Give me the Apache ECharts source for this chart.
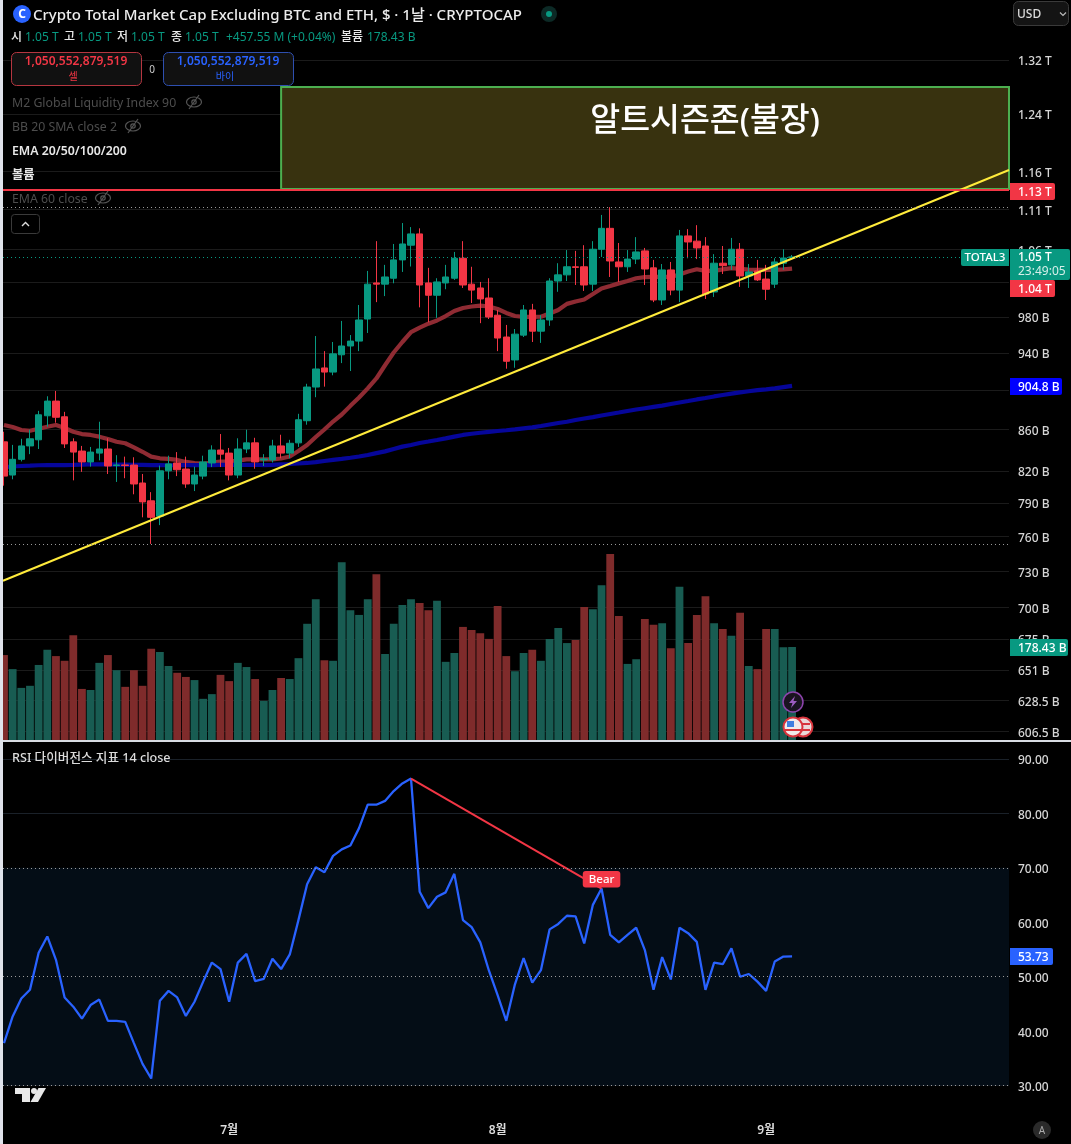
<!DOCTYPE html>
<html><head><meta charset="utf-8">
<style>html,body{margin:0;padding:0;background:#000;overflow:hidden}#c{width:1071px;height:1144px}</style>
<script src="https://cdn.jsdelivr.net/npm/echarts@6/dist/echarts.min.js"></script>
</head><body><div id="c"></div>
<script>
// ---- price pane data, billions USD: [open, close, low, high] per daily candle
const ohlc = [
[848,815,806,858],[816,831,812,845],[831,844,829,851],[844,851,836,860],[850,875,841,879],[874,889,863,894],
[889,872.5,867,899.5],[873,846,842,878],[848,838,811,851.5],[839,828.5,819,844],[828.5,838,824,843],[837,841,830,868],
[841,824.6,817,851.5],[825,825.6,809.5,835],[825.6,825,813,833.6],[825.5,807.6,798,833],[808.5,791,777,817],[792,777,753.4,800],
[778,820,770,825],[820,826.6,812,834.5],[827.5,821,815,838],[821.7,807.6,804,833.6],[807.6,816,801,824],[815,828.5,812,834.5],
[827.5,840,823.6,844.6],[840,836,823.6,855.7],[837,816,811,842],[816,841,813,851.5],[841,847,837,860],[847,828.5,822,852],
[830.4,831.4,824.6,836],[830.4,844,828,850],[844,837,832,855],[837,846.6,832,850],[847,870,843,876],[869,903.6,865,907],
[903.6,922.7,893,958.6],[923.8,919.4,904,942],[919.4,939,916,952],[938,947.6,929,975.5],[947.6,953,920.5,959.7],[953,976.6,942,993.7],
[977.7,1018,962,1033.7],[1019.4,1018,997,1070],[1018,1026.5,1004,1041],[1025,1047,1019,1066.5],[1047,1066.5,1032.5,1092.7],[1065,1079,1039,1087.6],
[1079,1017,991,1086],[1019.4,1005,974,1037.4],[1005,1020.6,979,1025],[1019.4,1026.5,1012,1041],[1025,1049,1023,1056.7],[1049,1017,1013.5,1070],
[1018,1011,996,1038.7],[1013.5,1000.7,973,1020.6],[1001.8,980,977.7,1025],[982,956.4,942,988],[957.5,931,923,971],[932.4,960.7,924,966.4],
[959.6,988,957.5,993.7],[988,964,952,995],[964,976.6,951,982],[976.6,1021.7,970,1025],[1021.7,1029,1009,1043],[1029,1038.7,1021.7,1059],
[1038.7,1037.9,1017,1058],[1038.7,1017,1010,1065],[1018,1060,1010,1070],[1060,1086,1050.6,1103],[1086,1045.7,1026.5,1113],[1044.5,1038.7,1020.6,1067.7],
[1038.7,1048,1032.5,1059],[1048,1056.7,1042,1075],[1058,1036,1017,1061.6],[1037.4,999.5,997,1047],[999.5,1034.9,993.7,1042],[1034.9,1011,1005,1044.5],
[1011,1076.5,997,1084],[1076.5,1069,1049,1085],[1070,1061.6,1048,1090],[1064,1006.4,1000.7,1075],[1008.8,1043,1003,1054],[1043,1040,1030,1064],
[1041,1060,1035,1074],[1060,1027.7,1014.8,1067.7],[1027.7,1032.5,1013.5,1042],[1033.7,1023,1021.7,1047],[1024,1012,999.5,1041],[1018,1044.5,1013.5,1049],
[1043,1049.3,1035,1060],[1050.1,1050.55,1049.5,1053]];
const volume = [163,136,100,104,144,173,161,152,201,98,96,148,163,134,102,134,104,175,169,142,129,121,115,79,88,125,113,148,140,117,75,96,119,117,157,223,270,153,152,341,249,240,270,318,165,223,259,270,263,249,267,150,167,217,211,205,194,257,161,132,167,173,152,194,215,186,192,255,251,297,357,238,146,155,232,221,224,176,294,186,240,276,224,213,200,244,142,136,213,213,178,178.43];
const ema50 = [864.7,862.7,859.7,859,861,863,864.7,861.7,858,855.7,854.8,853.1,850.8,848.1,846.6,842.6,838.3,833.6,832,831.4,830.4,828.5,827.3,826.6,827.8,828.8,828.8,829.7,831,831,831,830.9,831.8,833.7,839,844.9,852.8,860.2,868.2,875.3,884.1,892.7,902.2,912.6,926.7,940.5,952,963,967.9,972.4,976,981.1,986.8,990.3,992,992.9,992,989.1,984.6,981.1,980.2,980.2,980.3,984,988,995,997.8,1000.1,1006.4,1012.9,1015.8,1018.9,1021.7,1025,1026.4,1026.5,1026.5,1026.5,1029.5,1033.1,1035.7,1033.7,1033.7,1035.5,1037,1036.1,1035.3,1034.9,1034.9,1034.9,1035.5,1036.5];
const ema200 = [823.6,824.1,824.6,824.9,825.3,825.5,825.5,825.5,825.7,826,826.2,826.2,826.1,826,825.9,825.7,825.6,825.5,825.4,825.3,825.3,825.4,825.5,825.5,825.5,825.6,825.6,825.7,825.7,825.8,825.5,825.7,826.1,826.5,827,827.5,828.3,829.4,830.4,831.4,832.5,833.7,835.2,837,838.7,841,843.3,844.9,846.9,848.3,849.8,851.4,853.1,854.8,856,857,857.9,858.7,859.5,860.4,861.4,862.4,863.7,865.2,866.7,868,869.7,871.2,872.7,874.3,875.8,877.3,878.9,880.4,881.7,883,884.3,886,887.6,889.1,890.7,892.2,893.8,895.3,896.7,898,899.2,900.3,901.2,902.2,903.5,904.8];
const rsi = [37.8,42.7,46,47.6,54.4,57.4,53.1,46.2,44.5,42.3,44.8,45.8,41.9,41.9,41.7,37.8,34,31.3,45.6,47.4,46.2,42.8,45.4,49.1,52.6,51.4,45.4,52.6,54.2,49.2,49.6,53.3,51.4,54.1,60.4,67,70.1,69.2,72.2,73.4,74.1,77.3,81.6,81.6,82.3,84.1,85.5,86.4,65.6,62.6,64.7,65.5,68.9,60.4,59.1,56.3,51.1,46.6,41.9,48.6,53.4,48.9,51.2,58.7,59.7,61.2,61.1,56.1,63.2,66.2,57.7,56.3,57.7,59,54.9,47.6,53.6,49.5,59,58,56.4,47.6,52.6,52.3,55.2,50,50.5,49.1,47.4,52.8,53.7,53.73];
const priceTicks = [1320,1240,1160,1110,1060,1020,980,940,900,860,820,790,760,730,700,675,651,628.5,606.5];
const priceTickLabels = ['1.32 T','1.24 T','1.16 T','1.11 T','1.06 T','','980 B','940 B','','860 B','820 B','790 B','760 B','730 B','700 B','675 B','651 B','628.5 B','606.5 B'];
const rsiTicks = [30,40,50,60,70,80,90];
const monthTicks = [26,57,88];
const monthLabels = ['7월','8월','9월'];
const trendX = [-0.115,116.05], trendY = [721.9,1162];       // rising support line
const zoneX = 32, zoneTop = 1279.3, zoneBottom = 1136.6;     // alt-season box
const zoneLabel = '알트시즌존(불장)';
const redLevel = 1135.4, lastClose = 1050.55, rangeHigh = 1113, rangeLow = 753.4;
const divX = [47,69], divY = [86.4,66.2];

// ---- scale limits, style
const xMin = -0.115, xMax = 116.05;
const UP='#089981', DOWN='#f23645', UPV='#185c52', DOWNV='#7f2b2b';
const FF = '"Noto Sans","Noto Sans CJK KR",sans-serif';
const idx = a => a.map((v,i)=>[i,v]);

const T=(x,y,text,fill,size,weight,align)=>({type:'text',x,y:y+2,z:100,silent:true,style:{text,fill,font:(weight||'normal')+' '+size+'px '+FF,textAlign:align||'left',textVerticalAlign:'middle'}});
const R=(x,y,w,h,fill,stroke,r)=>({type:'rect',z:99,silent:true,shape:{x,y,width:w,height:h,r:r||0},style:{fill:fill,stroke:stroke||null,lineWidth:stroke?1:0}});
const tag=(x,y,w,h,fill,text,r)=>[R(x,y,w,h,fill,null,r||[0,2,2,0]),T(x+8,y+h/2-1,text,'#fff',12,'500')];
const eye=(cx,cy)=>[
 {type:'ellipse',z:100,silent:true,shape:{cx,cy,rx:7.5,ry:5},style:{fill:'none',stroke:'#555',lineWidth:1.2}},
 {type:'circle',z:100,silent:true,shape:{cx,cy,r:2.2},style:{fill:'none',stroke:'#555',lineWidth:1.2}},
 {type:'line',z:100,silent:true,shape:{x1:cx-5,y1:cy+7,x2:cx+5,y2:cy-7},style:{stroke:'#555',lineWidth:1.2}}];
const grey='#4d4d4d';
const tickLabel = (labels, ticks) => v => { const s = labels[ticks.findIndex(t=>Math.abs(t-v)<0.5)]; return s ? '{a|' + s + '}' : ''; };
const rich = {a:{color:'#d6d6d6',fontSize:12,fontWeight:500,fontFamily:FF,padding:[4,0,0,0]}};
const graphics = [
 R(0,0,3,1144,'#e0e3eb'),
 R(3,740,1068,2,'#d9dce3'),
 // header
 {type:'circle',z:100,silent:true,shape:{cx:22,cy:14,r:9},style:{fill:'#2962ff'}},
 T(22,13,'C','#fff',12,'bold','center'),
 T(33,13.5,'Crypto Total Market Cap Excluding BTC and ETH, $ · 1날 · CRYPTOCAP','#ededed',15,'500'),
 {type:'circle',z:100,silent:true,shape:{cx:549,cy:14,r:8},style:{fill:'#0c2a26'}},
 {type:'circle',z:100,silent:true,shape:{cx:549,cy:14,r:3},style:{fill:UP}},
 T(11,36,'시','#e8e8e8',12,'500'),T(25,36,'1.05 T',UP,12),
 T(64,36,'고','#e8e8e8',12,'500'),T(78,36,'1.05 T',UP,12),
 T(117,36,'저','#e8e8e8',12,'500'),T(131,36,'1.05 T',UP,12),
 T(171,36,'종','#e8e8e8',12,'500'),T(185,36,'1.05 T',UP,12),
 T(226,36,'+457.55 M (+0.04%)',UP,12),
 T(341,36,'볼륨','#e8e8e8',12,'500'),T(367,36,'178.43 B',UP,12),
 R(11.5,52.5,130,33,'#111','#b53640',5),
 T(76,60,'1,050,552,879,519','#f23645',12,'600','center'),T(73,75,'셀','#f23645',10,'normal','center'),
 T(152,68,'0','#ccc',10,'normal','center'),
 R(163.5,52.5,130,33,'#111','#2e4fb0',5),
 T(228,60,'1,050,552,879,519','#2962ff',12,'600','center'),T(225,75,'바이','#2962ff',10,'normal','center'),
 T(12,101,'M2 Global Liquidity Index 90',grey,12.3),...eye(194,102),
 T(12,125,'BB 20 SMA close 2',grey,12.3),...eye(133,126),
 T(12,149,'EMA 20/50/100/200','#e8e8e8',12.3,'600'),
 T(12,173,'볼륨','#e8e8e8',12.3,'600'),
 T(12,197,'EMA 60 close',grey,12.3),...eye(103,198),
 R(11.5,214.5,28,19,'#000','#3a3a3a',3),
 {type:'polyline',z:100,silent:true,shape:{points:[[22,226],[25.5,222.5],[29,226]]},style:{fill:'none',stroke:'#ddd',lineWidth:1.4}},
 R(1013.5,1.5,55,24,'#141414','#3a3a3a',5),
 T(1017,13,'USD','#dcdcdc',12,'500'),
 {type:'polyline',z:100,silent:true,shape:{points:[[1060,12.5],[1063,15.5],[1066,12.5]]},style:{fill:'none',stroke:'#bbb',lineWidth:1.2}},
 // price tags
 ...tag(1010,183,45,17,'#f23645','1.13 T'),
 R(1010,249,60,31,UP,null,[0,2,2,0]),T(1018,256,'1.05 T','#fff',12,'500'),T(1018,270,'23:49:05','#d5efe9',12),
 R(961,249,48,17,UP,null,[2,0,0,2]),T(985,256,'TOTAL3','#fff',11.5,'500','center'),
 ...tag(1010,280,45,17,'#f23645','1.04 T'),
 ...tag(1010,378,52,17,'#0000ff','904.8 B'),
 ...tag(1010,639,58,17,UP,'178.43 B'),
 ...tag(1010,948,43,17,'#2962ff','53.73'),
 // RSI title
 T(12,756,'RSI 다이버전스 지표 14 close','#dcdcdc',12.6,'500'),
 // TradingView mark
 {type:'polygon',z:100,silent:true,shape:{points:[[15,1088],[30,1088],[30,1102],[22,1102],[22,1094],[15,1094]]},style:{fill:'#e8e8e8'}},
 {type:'circle',z:100,silent:true,shape:{cx:34,cy:1091,r:3},style:{fill:'#e8e8e8'}},
 {type:'polygon',z:100,silent:true,shape:{points:[[38.5,1088],[46,1088],[38,1102],[30.5,1102]]},style:{fill:'#e8e8e8'}},
 // auto button
 {type:'circle',z:100,silent:true,shape:{cx:1042,cy:1130,r:9},style:{fill:'#2a2a2a'}},
 T(1042,1129,'A','#aaa',10,'normal','center'),
 // event badges
 {type:'circle',z:100,silent:true,shape:{cx:793,cy:702,r:10},style:{fill:'#1a1420',stroke:'#8e44ad',lineWidth:1.5}},
 {type:'polygon',z:100,silent:true,shape:{points:[[795,696],[789,703],[792.5,703],[791,708],[797,701],[793.5,701]]},style:{fill:'#9c5cc0'}},
 {type:'circle',z:100,silent:true,shape:{cx:803,cy:727,r:9.5},style:{fill:'#e9d8d8',stroke:'#d8343c',lineWidth:2}},
 {type:'line',z:100,silent:true,shape:{x1:797,y1:724,x2:810,y2:724},style:{stroke:'#d8343c',lineWidth:2}},
 {type:'line',z:100,silent:true,shape:{x1:797,y1:730,x2:810,y2:730},style:{stroke:'#d8343c',lineWidth:2}},
 {type:'circle',z:101,silent:true,shape:{cx:793,cy:727,r:9.5},style:{fill:'#f0eaea',stroke:'#d8343c',lineWidth:2}},
 {type:'rect',z:102,silent:true,shape:{x:787,y:721,width:7,height:6},style:{fill:'#3f7fe0'}},
 {type:'line',z:102,silent:true,shape:{x1:785,y1:730,x2:801,y2:730},style:{stroke:'#d8343c',lineWidth:2}}
];

const chart = echarts.init(document.getElementById('c'),null,{renderer:'canvas'});
chart.setOption({
 animation:false, backgroundColor:'#000', textStyle:{fontFamily:FF},
 graphic:{elements:graphics},
 grid:[{left:3,right:62,top:0,height:740,containLabel:false},{left:3,right:62,top:742,height:370,containLabel:false}],
 xAxis:[
  {type:'value',gridIndex:0,min:xMin,max:xMax,show:false,splitLine:{show:false}},
  {type:'value',gridIndex:1,min:xMin,max:xMax,position:'bottom',splitLine:{show:false},axisLine:{show:false},axisTick:{show:false},
   axisLabel:{customValues:monthTicks,formatter:v=>monthLabels[monthTicks.indexOf(v)],color:'#dcdcdc',fontSize:12,fontWeight:600,margin:13,fontFamily:FF,showMinLabel:true,showMaxLabel:true}}
 ],
 yAxis:[
  {type:'log',gridIndex:0,min:600.3,max:1414.9,position:'right',axisLine:{show:false},
   axisTick:{show:false,customValues:priceTicks},
   splitLine:{show:true,lineStyle:{color:'#1b1b1b',width:1}},
   axisLabel:{customValues:priceTicks,formatter:tickLabel(priceTickLabels,priceTicks),margin:9,rich}},
  {type:'value',gridIndex:0,min:0,max:1420,show:false,splitLine:{show:false}},
  {type:'value',gridIndex:1,min:25.15,max:93.12,position:'right',axisLine:{show:false},
   axisTick:{show:false,customValues:rsiTicks},
   splitLine:{show:true,lineStyle:{color:'#1a2129',width:1}},
   axisLabel:{customValues:rsiTicks,formatter:v=>'{a|'+v.toFixed(2)+'}',margin:9,rich}}
 ],
 series:[
  {name:'볼륨',type:'bar',xAxisIndex:0,yAxisIndex:1,z:1,barWidth:7.8,silent:true,
   data:volume.map((v,i)=>({value:[i,v],itemStyle:{color:ohlc[i][1]>=ohlc[i][0]?UPV:DOWNV}}))},
  {name:'EMA 50',type:'line',xAxisIndex:0,yAxisIndex:0,z:2,symbol:'none',silent:true,data:idx(ema50),lineStyle:{color:'#8f2b33',width:4.2},
   markLine:{silent:true,symbol:'none',label:{show:false},data:[
    {yAxis:rangeHigh,lineStyle:{color:'#9a9a9a',type:[1,3],width:1}},
    {yAxis:rangeLow,lineStyle:{color:'#9a9a9a',type:[1,3],width:1}},
    {yAxis:lastClose,lineStyle:{color:UP,type:[1,3],width:1}}]}},
  {name:'EMA 200',type:'line',xAxisIndex:0,yAxisIndex:0,z:2,symbol:'none',silent:true,data:idx(ema200),lineStyle:{color:'#06069a',width:4.2}},
  {name:'TOTAL3',type:'candlestick',xAxisIndex:0,yAxisIndex:0,z:3,barWidth:7,silent:true,encode:{x:0,y:[1,2,3,4]},
   data:ohlc.map((r,i)=>[i,...r]),
   itemStyle:{color:UP,color0:DOWN,borderColor:UP,borderColor0:DOWN,borderWidth:1}},
  {name:'추세선',type:'line',xAxisIndex:0,yAxisIndex:0,z:4,symbol:'none',silent:true,
   data:trendX.map((x,i)=>[x,trendY[i]]),lineStyle:{color:'#ffeb3b',width:2},
   markArea:{silent:true,z:1,itemStyle:{color:'#38320f',borderColor:'#4caf50',borderWidth:2},
    label:{show:true,position:'inside',offset:[60,-16],formatter:zoneLabel,color:'#fff',fontSize:32.5,fontWeight:500,fontFamily:FF},
    data:[[{coord:[zoneX,zoneTop]},{coord:[xMax,zoneBottom]}]]},
   markLine:{silent:true,symbol:'none',label:{show:false},lineStyle:{color:DOWN,type:'solid',width:2},data:[{yAxis:redLevel}]}},
  {name:'RSI',type:'line',xAxisIndex:1,yAxisIndex:2,z:3,symbol:'none',silent:true,data:idx(rsi),lineStyle:{color:'#2962ff',width:2.3},
   markArea:{silent:true,z:1,itemStyle:{color:'#040d16'},data:[[{yAxis:70},{yAxis:30}]]},
   markLine:{silent:true,symbol:'none',label:{show:false},lineStyle:{color:'#9a9a9a',type:[1,3],width:1},data:[{yAxis:70},{yAxis:50},{yAxis:30}]}},
  {name:'Bear',type:'line',xAxisIndex:1,yAxisIndex:2,z:4,silent:true,showSymbol:true,symbol:'circle',symbolSize:0,lineStyle:{color:DOWN,width:2},
   data:[{value:[divX[0],divY[0]]},{value:[divX[1],divY[1]],label:{show:true,position:'top',distance:1,formatter:'Bear',color:'#fff',fontSize:11.5,fontWeight:500,backgroundColor:DOWN,borderRadius:3,padding:[3,6,2,6]}}]}
 ]
});
</script></body></html>
